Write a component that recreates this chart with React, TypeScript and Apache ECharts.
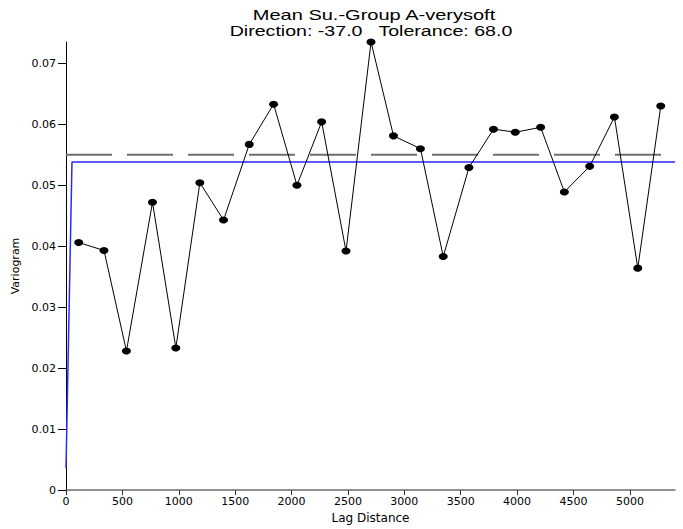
import React, { useEffect, useRef } from "react";
import * as echarts from "echarts";

// Experimental variogram (lag distance, gamma)
const lags = [113, 337, 536, 767, 974, 1187, 1397, 1625, 1841, 2048, 2267, 2483, 2705, 2904, 3143, 3345, 3573, 3791, 3984, 4209, 4419, 4644, 4863, 5070, 5274];
const gammas = [0.0406, 0.0393, 0.0228, 0.0472, 0.0233, 0.0504, 0.0443, 0.0567, 0.0633, 0.05, 0.0604, 0.0392, 0.0735, 0.0581, 0.056, 0.0383, 0.0529, 0.0592, 0.0587, 0.0595, 0.0489, 0.0531, 0.0612, 0.0364, 0.063];

// Fitted model
const modelLags = [0, 53, 5400];
const modelValues = [0.0036, 0.0538, 0.0538];

// Sill (dashed)
const sillLags = [0, 5400];
const sillValues = [0.055, 0.055];

const xTicks = [0, 500, 1000, 1500, 2000, 2500, 3000, 3500, 4000, 4500, 5000];
const yTicks = [0, 0.01, 0.02, 0.03, 0.04, 0.05, 0.06, 0.07];

const titleLines = ["Mean Su.-Group A-verysoft", "Direction: -37.0\u00a0\u00a0 Tolerance: 68.0"];

export default function App() {
  const ref = useRef<HTMLDivElement>(null);
  useEffect(() => {
    if (!ref.current) return;
    const chart = echarts.init(ref.current, undefined, { renderer: "svg" });
    const pairs = (xs: number[], ys: number[]) => xs.map((x, i) => [x, ys[i]]);
    const axisFont = "DejaVu Sans";
    chart.setOption({
      animation: false,
      backgroundColor: "#ffffff",
      grid: { left: 66, top: 42, right: 8, bottom: 38 },
      graphic: [
        {
          type: "text",
          x: 374,
          y: 15,
          scaleX: 1.43,
          style: {
            text: titleLines[0],
            x: 0,
            y: 0,
            fontFamily: "Liberation Sans",
            fontSize: 14,
            fill: "#000",
            textAlign: "center",
            textVerticalAlign: "middle",
          },
        },
        {
          type: "text",
          x: 371,
          y: 31.5,
          scaleX: 1.4,
          style: {
            text: titleLines[1],
            x: 0,
            y: 0,
            fontFamily: "Liberation Sans",
            fontSize: 14,
            fill: "#000",
            textAlign: "center",
            textVerticalAlign: "middle",
          },
        },
      ],
      xAxis: {
        type: "value",
        min: 0,
        max: 5400,
        interval: 500,
        name: "Lag Distance",
        nameLocation: "middle",
        nameGap: 22,
        nameTextStyle: { fontFamily: axisFont, fontSize: 12, color: "#000" },
        axisLine: { show: true, onZero: false, lineStyle: { color: "#6e6e6e", width: 1.5 } },
        axisTick: { show: true, length: 5, customValues: xTicks, lineStyle: { color: "#333" } },
        axisLabel: {
          customValues: xTicks,
          margin: 6,
          fontFamily: axisFont,
          fontSize: 11,
          color: "#000",
          formatter: (v: number) => String(v),
        },
        splitLine: { show: false },
      },
      yAxis: {
        type: "value",
        min: 0,
        max: 0.0735,
        interval: 0.01,
        name: "Variogram",
        nameLocation: "middle",
        nameGap: 42,
        nameRotate: 90,
        nameTextStyle: { fontFamily: axisFont, fontSize: 11, color: "#000" },
        axisLine: { show: true, lineStyle: { color: "#000", width: 1 } },
        axisTick: { show: true, length: 8, customValues: yTicks, lineStyle: { color: "#000" } },
        axisLabel: {
          customValues: yTicks,
          margin: 10,
          fontFamily: axisFont,
          fontSize: 11,
          color: "#000",
          formatter: (v: number) => (v === 0 ? "0" : v.toFixed(2)),
        },
        splitLine: { show: false },
      },
      series: [
        {
          type: "line",
          data: pairs(sillLags, sillValues),
          showSymbol: false,
          symbol: "none",
          lineStyle: { color: "#6e6e6e", width: 2, type: [46, 15] },
          z: 1,
        },
        {
          type: "line",
          data: pairs(modelLags, modelValues),
          showSymbol: false,
          symbol: "none",
          lineStyle: { color: "#2a2aff", width: 1.5 },
          z: 2,
        },
        {
          type: "line",
          data: pairs(lags, gammas),
          symbol: "circle",
          symbolSize: [9, 7],
          clip: false,
          itemStyle: { color: "#000" },
          lineStyle: { color: "#000", width: 1 },
          z: 3,
        },
      ],
    });
    return () => chart.dispose();
  }, []);
  return (
    <div
      ref={ref}
      style={{ position: "fixed", left: 0, top: 0, width: 683, height: 529, background: "#fff" }}
    />
  );
}
